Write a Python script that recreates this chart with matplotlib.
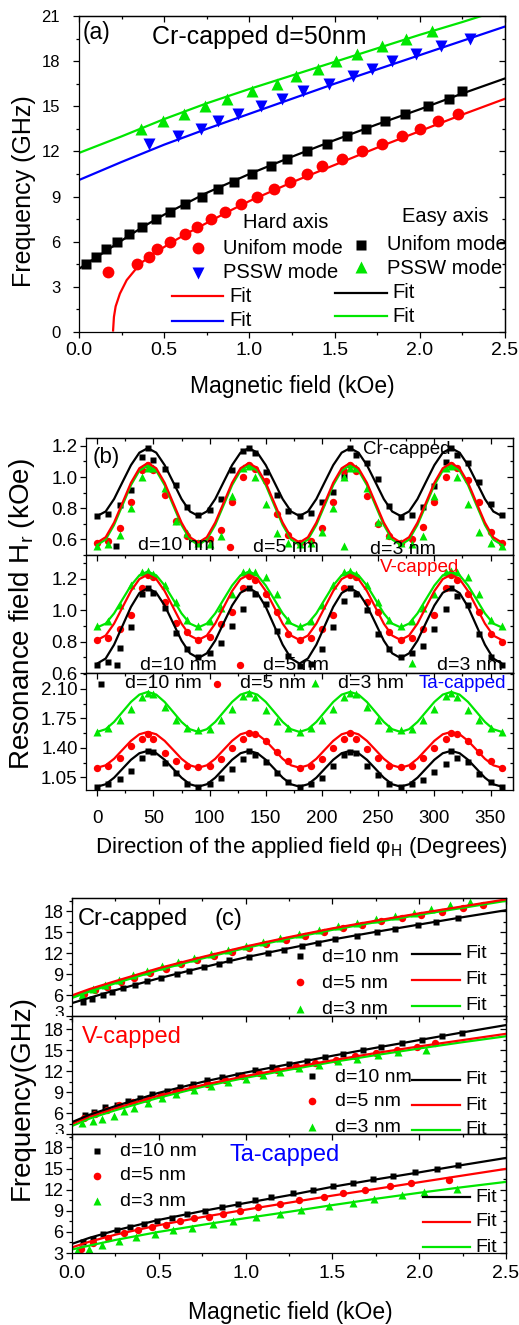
import numpy as np
import matplotlib
matplotlib.use("Agg")
import matplotlib.pyplot as plt
from matplotlib.lines import Line2D
from matplotlib.ticker import MultipleLocator, FormatStrFormatter, FuncFormatter
from matplotlib.transforms import Bbox, TransformedBbox

# ------------------------------------------------------------------ data (a)
EA_UNI_H = [0.041,0.10,0.158,0.225,0.295,0.37,0.45,0.534,0.624,0.722,0.816,0.912,1.013,1.125,1.219,1.336,1.453,1.571,1.684,1.796,1.915,2.05,2.173,2.248]
EA_UNI_F = [4.5,5.0,5.5,6.0,6.5,7.0,7.5,8.0,8.5,9.0,9.5,10.0,10.5,11.0,11.5,12.0,12.5,13.0,13.5,14.0,14.5,15.0,15.5,16.0]
HA_UNI_H = [0.168,0.342,0.413,0.456,0.534,0.624,0.694,0.777,0.859,0.949,1.047,1.144,1.238,1.34,1.426,1.541,1.659,1.776,1.894,2.001,2.109,2.226]
HA_UNI_F = [4.0,4.5,5.0,5.5,6.0,6.5,7.0,7.5,8.0,8.5,9.0,9.5,10.0,10.5,11.0,11.5,12.0,12.5,13.0,13.5,14.0,14.5]
HA_PSSW_H = [0.413,0.579,0.716,0.818,0.935,1.066,1.189,1.317,1.467,1.606,1.718,1.839,1.976,2.124,2.295]
HA_PSSW_F = [12.5,13.0,13.5,14.0,14.5,15.0,15.5,16.0,16.5,17.0,17.5,18.0,18.5,19.0,19.5]
EA_PSSW_H = [0.362,0.495,0.616,0.737,0.870,1.017,1.16,1.273,1.404,1.508,1.63,1.78,1.919,2.074]
EA_PSSW_F = [13.5,14.0,14.5,15.0,15.5,16.0,16.5,17.0,17.5,18.0,18.5,19.0,19.5,20.0]

EA_FIT_H = [0,0.1,0.2,0.3,0.4,0.5,0.75,1.0,1.25,1.5,1.75,2.0,2.25,2.5]
EA_FIT_F = [4.2,4.95,5.7,6.45,7.15,7.8,9.25,10.5,11.65,12.75,13.8,14.8,15.85,16.85]
HA_FIT_H = [0.2,0.205,0.215,0.24,0.28,0.36,0.45,0.55,0.65,0.75,0.875,1.0,1.25,1.5,1.75,2.0,2.25,2.5]
HA_FIT_F = [0.1,1.0,1.7,2.55,3.45,4.55,5.3,6.0,6.65,7.25,8.0,8.7,9.95,11.1,12.25,13.35,14.45,15.5]
PS_FIT_H = [0,0.25,0.5,0.75,1.0,1.25,1.5,1.75,2.0,2.25,2.5]
HP_FIT_F = [10.1,11.3,12.45,13.5,14.5,15.5,16.5,17.45,18.4,19.35,20.3]
EP_FIT_F = [11.9,13.0,14.15,15.2,16.15,17.05,17.95,18.85,19.75,20.6,21.5]

# ------------------------------------------------------------------ data (b)
ANG = [0,10,20,30,40,45,50,60,70,80,90,100,110,120,130,135,140,150,160,170,180,
       190,200,210,220,225,230,240,250,260,270,280,290,300,310,315,320,330,340,350,360]
CR_D10 = [0.752,0.766,0.818,0.916,1.13,1.183,1.112,1.05,0.948,0.807,0.758,0.786,0.858,1.048,1.168,1.187,1.157,1.029,0.884,0.779,0.749,
          0.769,0.839,0.907,1.008,1.183,1.138,1.091,0.989,0.811,0.743,0.756,0.809,0.944,1.095,1.187,1.14,1.091,0.967,0.824,0.756]
CR_D5 = [0.576,0.591,0.673,0.838,1.048,1.08,1.046,0.885,0.72,0.62,0.576,0.60,0.66,0.842,0.999,1.08,1.052,0.975,0.76,0.63,0.58,
         0.59,0.67,0.84,1.04,1.08,1.04,0.88,0.70,0.62,0.58,0.60,0.68,0.84,1.00,1.08,1.06,0.98,0.84,0.65,0.58]
CR_D3 = [0.56,0.57,0.63,0.80,1.00,1.06,1.06,0.93,0.72,0.64,0.58,0.57,0.62,0.88,1.06,1.07,1.00,0.83,0.64,0.58,0.57,
         0.58,0.65,0.80,1.00,1.06,1.06,0.93,0.71,0.63,0.58,0.57,0.62,0.88,1.06,1.07,1.00,0.83,0.65,0.58,0.56]
V_D10 = [0.65,0.67,0.76,0.895,1.10,1.14,1.11,1.01,0.855,0.75,0.70,0.725,0.79,0.90,1.005,1.14,1.10,1.04,0.87,0.71,0.645,
         0.66,0.75,0.895,1.055,1.14,1.10,1.00,0.85,0.75,0.70,0.725,0.77,0.88,1.005,1.14,1.09,1.035,0.85,0.70,0.65]
V_D5 = [0.81,0.82,0.88,0.97,1.14,1.22,1.21,1.05,0.915,0.86,0.81,0.83,0.91,0.99,1.14,1.215,1.19,1.10,0.99,0.85,0.81,
        0.82,0.88,0.97,1.14,1.22,1.21,1.05,0.99,0.86,0.81,0.82,0.88,0.97,1.14,1.22,1.19,1.10,0.99,0.85,0.80]
V_D3 = [0.90,0.93,1.03,1.16,1.24,1.25,1.23,1.16,1.05,0.94,0.90,0.93,1.01,1.10,1.245,1.25,1.245,1.21,1.10,0.94,0.90,
        0.93,1.03,1.16,1.245,1.25,1.23,1.16,1.05,0.94,0.90,0.93,1.01,1.10,1.245,1.25,1.245,1.21,1.10,0.94,0.90]
TA_D10 = [0.935,0.975,1.035,1.13,1.285,1.36,1.35,1.22,1.10,0.97,0.94,0.975,1.045,1.15,1.27,1.36,1.32,1.23,1.10,0.995,0.935,
          0.975,1.045,1.19,1.31,1.35,1.34,1.18,1.08,0.975,0.94,0.975,1.02,1.11,1.21,1.36,1.28,1.23,1.09,0.995,0.935]
TA_D5 = [1.165,1.19,1.285,1.42,1.50,1.56,1.50,1.34,1.245,1.19,1.17,1.19,1.27,1.40,1.51,1.58,1.56,1.48,1.35,1.245,1.165,
         1.19,1.27,1.40,1.51,1.58,1.50,1.39,1.285,1.19,1.17,1.19,1.285,1.40,1.51,1.58,1.56,1.48,1.35,1.245,1.165]
TA_D3 = [1.59,1.64,1.73,1.86,2.01,2.05,2.04,1.89,1.73,1.64,1.61,1.63,1.73,1.86,2.02,2.05,2.01,1.85,1.72,1.64,1.59,
         1.64,1.73,1.86,2.01,2.05,2.04,1.89,1.73,1.64,1.61,1.63,1.73,1.86,2.02,2.05,2.01,1.85,1.73,1.64,1.59]

FIT_ANG = np.arange(0, 360.1, 7.5)
CR_D10_FIT = [0.750,0.779,0.859,0.968,1.076,1.156,1.185,1.156,1.076,0.968,0.859,0.779,
              0.750,0.779,0.859,0.968,1.076,1.156,1.185,1.156,1.076,0.968,0.859,0.779,
              0.750,0.779,0.859,0.968,1.076,1.156,1.185,1.156,1.076,0.968,0.859,0.779,
              0.750,0.779,0.859,0.968,1.076,1.156,1.185,1.156,1.076,0.968,0.859,0.779,0.750]
CR_D5_FIT = [0.580,0.614,0.708,0.835,0.963,1.056,1.090,1.056,0.963,0.835,0.708,0.614,
             0.580,0.614,0.708,0.835,0.963,1.056,1.090,1.056,0.963,0.835,0.708,0.614,
             0.580,0.614,0.708,0.835,0.963,1.056,1.090,1.056,0.963,0.835,0.708,0.614,
             0.580,0.614,0.708,0.835,0.963,1.056,1.090,1.056,0.963,0.835,0.708,0.614,0.580]
CR_D3_FIT = [0.565,0.599,0.693,0.820,0.948,1.041,1.075,1.041,0.948,0.820,0.693,0.599,
             0.565,0.599,0.693,0.820,0.948,1.041,1.075,1.041,0.948,0.820,0.693,0.599,
             0.565,0.599,0.693,0.820,0.948,1.041,1.075,1.041,0.948,0.820,0.693,0.599,
             0.565,0.599,0.693,0.820,0.948,1.041,1.075,1.041,0.948,0.820,0.693,0.599,0.565]
V_D10_FIT = [0.660,0.692,0.780,0.900,1.020,1.108,1.140,1.110,1.029,0.918,0.806,0.725,
             0.695,0.725,0.806,0.918,1.029,1.110,1.140,1.108,1.020,0.900,0.780,0.692,
             0.660,0.692,0.780,0.900,1.020,1.108,1.140,1.110,1.029,0.918,0.806,0.725,
             0.695,0.725,0.806,0.918,1.029,1.110,1.140,1.108,1.020,0.900,0.780,0.692,0.660]
V_D5_FIT = [0.810,0.838,0.914,1.018,1.121,1.197,1.225,1.197,1.121,1.018,0.914,0.838,
            0.810,0.838,0.914,1.018,1.121,1.197,1.225,1.197,1.121,1.018,0.914,0.838,
            0.810,0.838,0.914,1.018,1.121,1.197,1.225,1.197,1.121,1.018,0.914,0.838,
            0.810,0.838,0.914,1.018,1.121,1.197,1.225,1.197,1.121,1.018,0.914,0.838,0.810]
V_D3_FIT = [0.890,0.914,0.979,1.068,1.156,1.221,1.245,1.221,1.156,1.068,0.979,0.914,
            0.890,0.914,0.979,1.068,1.156,1.221,1.245,1.221,1.156,1.068,0.979,0.914,
            0.890,0.914,0.979,1.068,1.156,1.221,1.245,1.221,1.156,1.068,0.979,0.914,
            0.890,0.914,0.979,1.068,1.156,1.221,1.245,1.221,1.156,1.068,0.979,0.914,0.890]
TA_D10_FIT = [0.940,0.968,1.046,1.153,1.259,1.337,1.365,1.337,1.259,1.153,1.046,0.968,
              0.940,0.968,1.046,1.153,1.259,1.337,1.365,1.337,1.259,1.153,1.046,0.968,
              0.940,0.968,1.046,1.153,1.259,1.337,1.365,1.337,1.259,1.153,1.046,0.968,
              0.940,0.968,1.046,1.153,1.259,1.337,1.365,1.337,1.259,1.153,1.046,0.968,0.940]
TA_D5_FIT = [1.165,1.193,1.271,1.378,1.484,1.562,1.590,1.562,1.484,1.378,1.271,1.193,
             1.165,1.193,1.271,1.378,1.484,1.562,1.590,1.562,1.484,1.378,1.271,1.193,
             1.165,1.193,1.271,1.378,1.484,1.562,1.590,1.562,1.484,1.378,1.271,1.193,
             1.165,1.193,1.271,1.378,1.484,1.562,1.590,1.562,1.484,1.378,1.271,1.193,1.165]
TA_D3_FIT = [1.590,1.622,1.709,1.828,1.946,2.033,2.065,2.033,1.946,1.828,1.709,1.622,
             1.590,1.622,1.709,1.828,1.946,2.033,2.065,2.033,1.946,1.828,1.709,1.622,
             1.590,1.622,1.709,1.828,1.946,2.033,2.065,2.033,1.946,1.828,1.709,1.622,
             1.590,1.622,1.709,1.828,1.946,2.033,2.065,2.033,1.946,1.828,1.709,1.622,1.590]

# ------------------------------------------------------------------ data (c)
C_FIT_H = [0,0.1,0.25,0.5,0.75,1.0,1.25,1.5,1.75,2.0,2.25,2.5]
CRC10_H = [0.065,0.115,0.177,0.232,0.292,0.363,0.43,0.51,0.603,0.672,0.76,0.847,0.906,1.018,1.129,1.223,1.323,1.415,1.515,1.64,1.755,1.861,1.991,2.097,2.225]
CRC10_F = [5.0,5.5,6.0,6.5,7.0,7.5,8.0,8.5,9.0,9.5,10.0,10.5,11.0,11.5,12.0,12.5,13.0,13.5,14.0,14.5,15.0,15.5,16.0,16.5,17.0]
CRC5_H = [0.07,0.13,0.2,0.28,0.36,0.45,0.54,0.63,0.72,0.82,0.92,1.02,1.12,1.23,1.34,1.45,1.56,1.67,1.78,1.9,2.01,2.13,2.25,2.37]
CRC5_F = [6.2,6.7,7.2,7.8,8.4,9.1,9.75,10.4,11.0,11.6,12.2,12.75,13.3,13.9,14.5,15.05,15.55,16.05,16.55,17.0,17.45,17.95,18.45,18.95]
CRC3_H = [0.06,0.12,0.19,0.27,0.35,0.43,0.52,0.61,0.7,0.8,0.9,1.0,1.1,1.2,1.31,1.42,1.53,1.64,1.75,1.86,1.97,2.07,2.18,2.29]
CRC3_F = [6.0,6.8,7.5,8.2,8.85,9.5,10.1,10.7,11.25,11.85,12.5,13.0,13.6,14.1,14.7,15.3,15.85,16.35,16.85,17.35,17.75,18.3,18.85,19.3]
CRC10_FIT = [4.85,5.6,6.7,8.4,9.95,11.4,12.7,13.95,15.05,16.1,17.15,18.15]
CRC5_FIT = [5.95,6.85,8.0,9.85,11.45,12.95,14.3,15.55,16.65,17.7,18.7,19.7]
CRC3_FIT = [5.65,6.55,7.75,9.65,11.3,12.8,14.15,15.4,16.5,17.55,18.55,19.55]

VC10_H = [0.075,0.127,0.19,0.257,0.325,0.392,0.459,0.545,0.622,0.699,0.78,0.862,0.958,1.054,1.15,1.252,1.352,1.457,1.563,1.674,1.778,1.899,2.014,2.129,2.245]
VC10_F = [5.7,6.2,6.8,7.2,7.7,8.2,8.7,9.2,9.7,10.2,10.7,11.1,11.5,12.1,12.6,13.0,13.5,14.0,14.5,15.0,15.5,16.0,16.5,17.0,17.5]
VC5_H = [0.07,0.13,0.2,0.27,0.35,0.43,0.51,0.6,0.69,0.78,0.88,0.98,1.08,1.18,1.29,1.4,1.52,1.63,1.75,1.87,1.99,2.09]
VC5_F = [5.3,5.9,6.5,7.1,7.6,8.0,8.6,9.2,9.7,10.2,10.8,11.3,11.7,12.2,12.7,13.15,13.6,14.1,14.6,15.05,15.5,16.05]
VC3_H = [0.06,0.12,0.175,0.24,0.3,0.36,0.44,0.52,0.6,0.7,0.8,0.9,1.0,1.1,1.2,1.31,1.42,1.53,1.64,1.76,1.88,2.04]
VC3_F = [4.6,4.9,5.1,5.6,6.3,6.7,7.4,8.1,8.7,9.3,9.9,10.4,10.9,11.4,11.9,12.4,12.9,13.4,13.8,14.3,14.7,15.1]
VC10_FIT = [4.7,5.75,7.0,8.9,10.45,11.8,13.0,14.2,15.35,16.45,17.55,18.6]
VC5_FIT = [4.45,5.5,6.7,8.5,10.0,11.3,12.45,13.55,14.6,15.55,16.45,17.35]
VC3_FIT = [4.15,5.2,6.4,8.2,9.75,11.05,12.2,13.3,14.3,15.25,16.15,17.0]

TC10_H = [0.065,0.123,0.18,0.257,0.334,0.415,0.492,0.574,0.661,0.766,0.862,0.958,1.054,1.144,1.275,1.39,1.502,1.617,1.736,1.847,1.976,2.105,2.225]
TC10_F = [4.5,5.0,5.75,6.25,6.75,7.1,7.6,8.0,8.5,9.0,9.5,10.0,10.5,11.0,11.5,12.0,12.5,13.0,13.5,14.0,14.5,15.0,15.5]
TC5_H = [0.05,0.12,0.21,0.3,0.38,0.46,0.54,0.62,0.7,0.79,0.87,0.97,1.07,1.2,1.31,1.45,1.56,1.69,1.83,1.95,2.17]
TC5_F = [3.6,4.4,5.2,5.85,6.3,6.7,7.0,7.5,7.9,8.1,8.5,9.0,9.5,10.0,10.5,11.0,11.5,12.0,12.5,13.0,13.4]
TC3_H = [0.03,0.10,0.175,0.27,0.37,0.48,0.58,0.69,0.81,0.93,1.06,1.2,1.32,1.48,1.62,1.74,1.9,2.03,2.22]
TC3_F = [3.3,3.6,4.2,4.7,5.3,5.7,6.2,6.6,7.1,7.6,8.1,8.6,9.1,9.7,10.1,10.6,11.2,11.6,12.1]
TC10_FIT = [4.3,5.15,6.2,7.7,8.95,10.1,11.2,12.4,13.45,14.45,15.5,16.5]
TC5_FIT = [3.8,4.6,5.6,6.95,8.1,9.15,10.15,11.15,12.1,13.05,14.0,14.95]
TC3_FIT = [3.5,4.05,4.85,6.0,7.0,7.95,8.85,9.8,10.7,11.55,12.35,13.1]

# ------------------------------------------------------------------ styling
plt.rcParams['font.family'] = ['Liberation Sans', 'DejaVu Sans']
plt.rcParams['mathtext.fontset'] = 'custom'
plt.rcParams['mathtext.rm'] = 'Liberation Sans'
plt.rcParams['mathtext.it'] = 'Liberation Sans:italic'
plt.rcParams['mathtext.bf'] = 'Liberation Sans:bold'
plt.rcParams['axes.linewidth'] = 0.9

W, H = 519, 1325
fig = plt.figure(figsize=(W / 100, H / 100), dpi=100)

BLK, RED, GRN, BLU = '#000000', '#ff0000', '#00e600', '#0000ff'


def box(l, t, r, b):
    return [l / W, 1 - b / H, (r - l) / W, (b - t) / H]


def setup(ax, xlim, ylim, xmaj, xmin, ymaj, ymin, xfmt, yfmt, show_x, xls, yls, xpad, ypad):
    ax.set_xlim(xlim)
    ax.set_ylim(ylim)
    for axis, mj, mn in ((ax.xaxis, xmaj, xmin), (ax.yaxis, ymaj, ymin)):
        axis.set_major_locator(MultipleLocator(mj))
        axis.set_minor_locator(MultipleLocator(mn))
    ax.xaxis.set_major_formatter(FormatStrFormatter(xfmt))
    if isinstance(yfmt, str):
        ax.yaxis.set_major_formatter(FormatStrFormatter(yfmt))
    else:
        ax.yaxis.set_major_formatter(yfmt)
    ax.tick_params(which='both', direction='out', width=0.9)
    ax.tick_params(which='major', length=4.5)
    ax.tick_params(which='minor', length=2.5)
    ax.tick_params(axis='x', labelsize=xls, pad=xpad, labelbottom=show_x)
    ax.tick_params(axis='y', labelsize=yls, pad=ypad)
    top = ax.secondary_xaxis('top')
    top.xaxis.set_major_locator(MultipleLocator(xmaj))
    top.xaxis.set_minor_locator(MultipleLocator(xmin))
    top.tick_params(which='both', direction='in', labeltop=False, width=0.9)
    top.tick_params(which='major', length=4.5)
    top.tick_params(which='minor', length=2.5)
    right = ax.secondary_yaxis('right')
    right.yaxis.set_major_locator(MultipleLocator(ymaj))
    right.yaxis.set_minor_locator(MultipleLocator(ymin))
    right.tick_params(which='both', direction='in', labelright=False, width=0.9)
    right.tick_params(which='major', length=4.5)
    right.tick_params(which='minor', length=2.5)


def ftext(x, y, s, size, color=BLK, ha='left', va='center', rotation=0, ax=None):
    if ax is not None:
        return ax.text(x / W, 1 - y / H, s, transform=fig.transFigure, fontsize=size, color=color,
                       ha=ha, va=va, clip_on=True)
    return fig.text(x / W, 1 - y / H, s, fontsize=size, color=color, ha=ha, va=va, rotation=rotation)


def fkey(x, y, ax=None, **kw):
    ln = Line2D([x / W], [1 - y / H], transform=fig.transFigure, linestyle='none', **kw)
    if ax is not None:
        ax.add_line(ln)
    else:
        fig.add_artist(ln)


def fline(x0, x1, y, color, ax=None, lw=1.6):
    ln = Line2D([x0 / W, x1 / W], [1 - y / H, 1 - y / H], transform=fig.transFigure, color=color, lw=lw)
    if ax is not None:
        ax.add_line(ln)
    else:
        fig.add_artist(ln)


# ================================================================== panel (a)
ax = fig.add_axes(box(79, 16, 505, 332))
ax.plot(HA_UNI_H, HA_UNI_F, 'o', color=RED, ms=8.5, mec='none')
ax.plot(HA_PSSW_H, HA_PSSW_F, 'v', color=BLU, ms=9, mec='none')
ax.plot(EA_UNI_H, EA_UNI_F, 's', color=BLK, ms=7.3, mec='none')
ax.plot(EA_PSSW_H, EA_PSSW_F, '^', color=GRN, ms=9, mec='none')
ax.plot(HA_FIT_H, HA_FIT_F, '-', color=RED, lw=1.6)
ax.plot(PS_FIT_H, HP_FIT_F, '-', color=BLU, lw=1.6)
ax.plot(EA_FIT_H, EA_FIT_F, '-', color=BLK, lw=1.6)
ax.plot(PS_FIT_H, EP_FIT_F, '-', color=GRN, lw=1.6)
setup(ax, (0, 2.5), (0, 21), 0.5, 0.25, 3, 1.5, '%.1f', '%d', True, 14, 12, 3, 9)

ftext(83, 33, "(a)", 16.5)
ftext(152, 37, "Cr-capped d=50nm", 18)
ftext(243, 223, "Hard axis", 14.5)
fkey(198, 248, marker='o', color=RED, ms=8.5, mec='none')
ftext(223, 249, "Unifom mode", 14.5)
fkey(198, 273, marker='v', color=BLU, ms=9, mec='none')
ftext(223, 273, "PSSW mode", 14.5)
fline(172, 223, 296, RED)
ftext(229, 296, "Fit", 14.5)
fline(172, 223, 321, BLU)
ftext(229, 321, "Fit", 14.5)
ftext(402, 217, "Easy axis", 14.5)
fkey(361, 245, marker='s', color=BLK, ms=7.3, mec='none')
ftext(387, 245, "Unifom mode", 14.5)
fkey(361, 267, marker='^', color=GRN, ms=9, mec='none')
ftext(387, 268, "PSSW mode", 14.5)
fline(335, 387, 293, BLK)
ftext(392, 292, "Fit", 14.5)
fline(335, 387, 316, GRN)
ftext(392, 316, "Fit", 14.5)

ftext(292, 387, "Magnetic field (kOe)", 16.5, ha='center')
ftext(24, 191, "Frequency (GHz)", 18, ha='center', rotation=90)

# ================================================================== panel (b)
b_boxes = [(438, 555), (555, 673), (673, 790)]
b_ylims = [(0.5, 1.25), (0.6, 1.35), (0.9, 2.29)]
b_ymaj = [(0.2, 0.1, '%.1f'), (0.2, 0.1, '%.1f'), (0.35, 0.175, '%.2f')]
b_data = [
    (CR_D10, CR_D5, CR_D3, CR_D10_FIT, CR_D5_FIT, CR_D3_FIT),
    (V_D10, V_D5, V_D3, V_D10_FIT, V_D5_FIT, V_D3_FIT),
    (TA_D10, TA_D5, TA_D3, TA_D10_FIT, TA_D5_FIT, TA_D3_FIT),
]
b_axes = []
for i in range(3):
    t, b = b_boxes[i]
    ax = fig.add_axes(box(86, t, 513, b))
    d10, d5, d3, f10, f5, f3 = b_data[i]
    ax.plot(ANG, d10, 's', color=BLK, ms=4.8, mec='none')
    ax.plot(ANG, d5, 'o', color=RED, ms=5.3, mec='none')
    ax.plot(ANG, d3, '^', color=GRN, ms=5.8, mec='none')
    if i == 2:
        ax.plot(FIT_ANG, f3, '-', color=GRN, lw=1.6)
        ax.plot(FIT_ANG, f5, '-', color=RED, lw=1.6)
        ax.plot(FIT_ANG, f10, '-', color=BLK, lw=1.6)
    else:
        ax.plot(FIT_ANG, f10, '-', color=BLK, lw=1.6)
        ax.plot(FIT_ANG, f3, '-', color=GRN, lw=1.6)
        ax.plot(FIT_ANG, f5, '-', color=RED, lw=1.6)
    mj, mn, fmt = b_ymaj[i]
    setup(ax, (-10, 370), b_ylims[i], 50, 25, mj, mn, '%d', fmt, i == 2, 13.5, 13.5, 10, 1.5)
    b_axes.append(ax)

ax1, ax2, ax3 = b_axes
ftext(93, 457, "(b)", 16)
ftext(363, 449, "Cr-capped", 13.5)
fkey(116, 546, ax=ax1, marker='s', color=BLK, ms=4.8, mec='none')
ftext(138, 546, "d=10 nm", 14, ax=ax1)
fkey(230, 547, ax=ax1, marker='o', color=RED, ms=5.3, mec='none')
ftext(253, 547, "d=5 nm", 14, ax=ax1)
fkey(344, 546, ax=ax1, marker='^', color=GRN, ms=5.8, mec='none')
ftext(370, 550, "d=3 nm", 14, ax=ax1)

ftext(380, 568, "V-capped", 13.5, color=RED)
fkey(117, 665, ax=ax2, marker='s', color=BLK, ms=4.8, mec='none')
ftext(140, 665, "d=10 nm", 14, ax=ax2)
fkey(240, 665, ax=ax2, marker='o', color=RED, ms=5.3, mec='none')
ftext(263, 665, "d=5 nm", 14, ax=ax2)
fkey(412, 663, ax=ax2, marker='^', color=GRN, ms=5.8, mec='none')
ftext(437, 665, "d=3 nm", 14, ax=ax2)

fkey(101, 684, ax=ax3, marker='s', color=BLK, ms=4.8, mec='none')
ftext(125, 684, "d=10 nm", 14, ax=ax3)
fkey(217, 684, ax=ax3, marker='o', color=RED, ms=5.3, mec='none')
ftext(240, 684, "d=5 nm", 14, ax=ax3)
fkey(315, 683, ax=ax3, marker='^', color=GRN, ms=5.8, mec='none')
ftext(338, 684, "d=3 nm", 14, ax=ax3)
ftext(419, 683, "Ta-capped", 13.5, color=BLU)

ftext(301, 848, r"Direction of the applied field φ$_\mathregular{H}$ (Degrees)", 16, ha='center')
ftext(22, 614, r"Resonance field H$_\mathregular{r}$ (kOe)", 20, ha='center', rotation=90)

# ================================================================== panel (c)
c_boxes = [(898, 1016), (1016, 1134), (1134, 1253)]
c_data = [
    (CRC10_H, CRC10_F, CRC5_H, CRC5_F, CRC3_H, CRC3_F, CRC10_FIT, CRC5_FIT, CRC3_FIT),
    (VC10_H, VC10_F, VC5_H, VC5_F, VC3_H, VC3_F, VC10_FIT, VC5_FIT, VC3_FIT),
    (TC10_H, TC10_F, TC5_H, TC5_F, TC3_H, TC3_F, TC10_FIT, TC5_FIT, TC3_FIT),
]
# the lowest label "3" of the two upper panels is half hidden by the panel below
upper_fmt = FuncFormatter(lambda v, p: '' if abs(v - 3) < 1e-6 else '%d' % v)
c_axes = []
for i in range(3):
    t, b = c_boxes[i]
    ax = fig.add_axes(box(72, t, 506, b))
    h10, f10, h5, f5, h3, f3, ft10, ft5, ft3 = c_data[i]
    ax.plot(h10, f10, 's', color=BLK, ms=4.5, mec='none')
    ax.plot(h5, f5, 'o', color=RED, ms=5.3, mec='none')
    ax.plot(h3, f3, '^', color=GRN, ms=5.8, mec='none')
    if i == 0:
        ax.plot(C_FIT_H, ft10, '-', color=BLK, lw=1.6)
        ax.plot(C_FIT_H, ft3, '-', color=GRN, lw=2.2)
        ax.plot(C_FIT_H, ft5, '-', color=RED, lw=1.6)
    else:
        ax.plot(C_FIT_H, ft3, '-', color=GRN, lw=1.6)
        ax.plot(C_FIT_H, ft5, '-', color=RED, lw=1.6)
        ax.plot(C_FIT_H, ft10, '-', color=BLK, lw=1.6)
    setup(ax, (0, 2.5), (3, 19.9), 0.5, 0.25, 3, 1.5, '%.1f',
          upper_fmt if i < 2 else '%d', i == 2, 14, 13, 4, 1.5)
    c_axes.append(ax)
    if i < 2:
        t3 = ftext(64, b - 2, "3", 12.5, ha='right')
        t3.set_clip_box(TransformedBbox(Bbox([[0, 1 - b / H], [1, 1]]), fig.transFigure))
        t3.set_clip_on(True)

c1, c2, c3 = c_axes
ftext(78, 919, "Cr-capped", 17)
ftext(214, 919, "(c)", 17)
for (yy, mk, col, lab, ly) in [(956, 's', BLK, "d=10 nm", 954), (982, 'o', RED, "d=5 nm", 980),
                               (1009, '^', GRN, "d=3 nm", 1006)]:
    fkey(300, yy, ax=c1, marker=mk, color=col, ms=5.5 if mk != 's' else 4.8, mec='none')
    ftext(322, yy + 1, lab, 14, ax=c1)
    fline(412, 460, ly, col, ax=c1)
    ftext(465, ly - 1, "Fit", 14, ax=c1)

ftext(82, 1037, "V-capped", 17, color=RED)
for (yy, mk, col, lab, ly) in [(1076, 's', BLK, "d=10 nm", 1080), (1101, 'o', RED, "d=5 nm", 1105),
                               (1127, '^', GRN, "d=3 nm", 1130)]:
    fkey(312, yy, ax=c2, marker=mk, color=col, ms=5.5 if mk != 's' else 4.8, mec='none')
    ftext(335, yy + 1, lab, 14, ax=c2)
    fline(412, 460, ly, col, ax=c2)
    ftext(465, ly, "Fit", 14, ax=c2)

ftext(230, 1155, "Ta-capped", 17, color=BLU)
for (yy, mk, col, lab, ly) in [(1151, 's', BLK, "d=10 nm", 1197), (1176, 'o', RED, "d=5 nm", 1222),
                               (1201, '^', GRN, "d=3 nm", 1247)]:
    fkey(97, yy, ax=c3, marker=mk, color=col, ms=5.5 if mk != 's' else 4.8, mec='none')
    ftext(120, yy, lab, 14, ax=c3)
    fline(423, 470, ly, col, ax=c3)
    ftext(475, ly, "Fit", 14, ax=c3)

ftext(290, 1312, "Magnetic field (kOe)", 16.5, ha='center')
ftext(22, 1097, "Frequency(GHz)", 20, ha='center', rotation=90)

fig.savefig("out.png", dpi=100)
